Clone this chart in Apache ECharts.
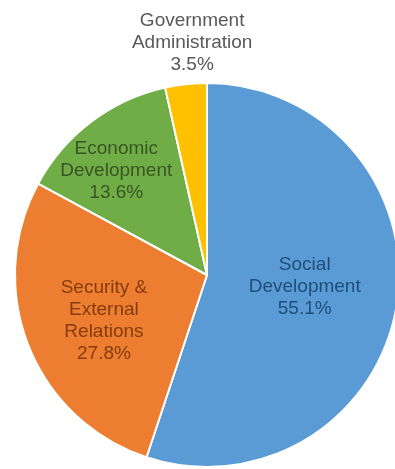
<!DOCTYPE html>
<html>
<head>
<meta charset="utf-8">
<script src="https://cdn.jsdelivr.net/npm/echarts@6/dist/echarts.min.js"></script>
<style>
  html, body { margin: 0; padding: 0; background: #fff; }
  #chart { width: 395px; height: 469px; }
</style>
</head>
<body>
<div id="chart"></div>
<script>
// slice order clockwise from 12 o'clock
const categories = ["Social\nDevelopment", "Security &\nExternal\nRelations", "Economic\nDevelopment", "Government\nAdministration"];
const shares = [55.1, 27.8, 13.6, 3.5];
const colors = ["#5b9bd5", "#ed7d31", "#70ad47", "#ffc000"];
const labelColors = ["#1f4e79", "#843c0c", "#375623", "#595959"];
// nudges so labels sit where the original placed them
const labelOffsets = [[0, -4], [-11, 9], [-31, -25], [-4, -134]];

const chart = echarts.init(document.getElementById("chart"));

const option = {
  animation: false,
  series: [
    {
      type: "pie",
      center: [207, 275],
      radius: 192,
      startAngle: 90,
      clockwise: true,
      itemStyle: {
        borderColor: "#fff",
        borderWidth: 2,
      },
      label: {
        show: true,
        position: "inside",
        fontFamily: "Liberation Sans, Arial, sans-serif",
        fontSize: 19,
        lineHeight: 22,
        align: "center",
        formatter: (p) => p.name + "\n" + p.value.toFixed(1) + "%",
      },
      labelLine: { show: false },
      emphasis: { disabled: true },
      data: shares.map((v, i) => ({
        name: categories[i],
        value: v,
        itemStyle: { color: colors[i] },
        label: { color: labelColors[i], offset: labelOffsets[i] },
      })),
    },
  ],
};

chart.setOption(option);
</script>
</body>
</html>
